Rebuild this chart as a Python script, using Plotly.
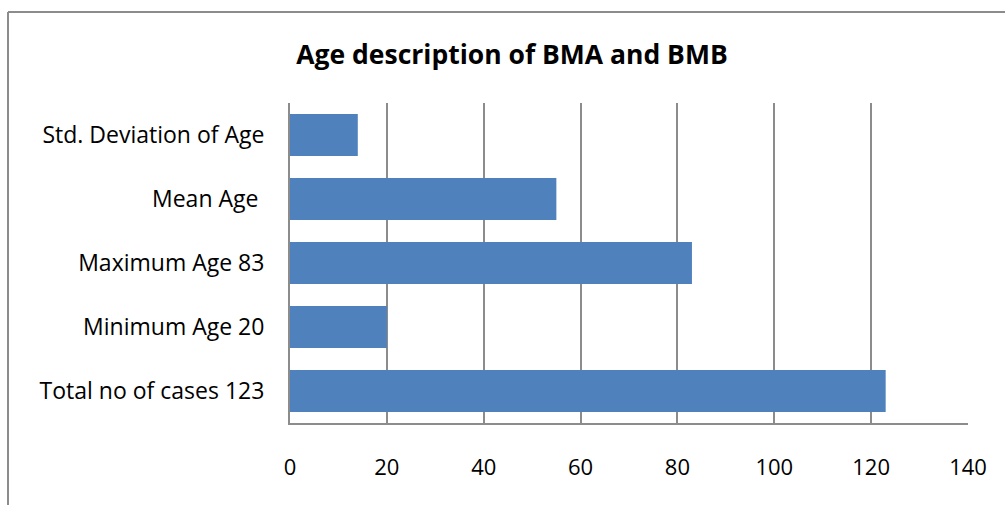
import plotly.graph_objects as go

# Descriptive statistics of age, listed bottom-to-top as drawn
categories = [
    "Total no of cases 123",
    "Minimum Age 20",
    "Maximum Age 83",
    "Mean Age\u00a0",
    "Std. Deviation of Age",
]
values = [123, 20, 83, 55, 14]
x_ticks = [0, 20, 40, 60, 80, 100, 120, 140]

BAR_COLOR = "#4F81BD"
GRID_COLOR = "#8C8C8C"
FONT = "Open Sans"

fig = go.Figure(
    go.Bar(
        x=values,
        y=categories,
        orientation="h",
        marker=dict(color=BAR_COLOR, line=dict(width=0)),
        hoverinfo="x+y",
    )
)

W, H = 1005, 505
ml, mr, mt, mb = 290, 37, 103, 82
pw, ph = W - ml - mr, H - mt - mb

def px_to_paper_x(px):
    return (px - ml) / pw

def px_to_paper_y(py):
    return (H - mb - py) / ph

fig.update_layout(
    width=W,
    height=H,
    margin=dict(l=ml, r=mr, t=mt, b=mb, pad=0),
    paper_bgcolor="white",
    plot_bgcolor="white",
    bargap=0.34,
    showlegend=False,
    font=dict(family=FONT, size=22, color="black"),
    title=dict(
        text="<b>Age description of BMA and BMB</b>",
        x=px_to_paper_x(512),
        xref="paper",
        xanchor="center",
        y=(H - 55) / H,
        yanchor="middle",
        font=dict(family=FONT, size=26.5, color="black"),
    ),
    xaxis=dict(
        range=[0, 140],
        tickvals=x_ticks,
        showgrid=True,
        gridcolor=GRID_COLOR,
        gridwidth=2,
        showline=True,
        linecolor=GRID_COLOR,
        linewidth=2,
        zeroline=False,
        ticks="",
        ticklabelstandoff=24,
        tickfont=dict(family=FONT, size=22, color="black"),
        fixedrange=True,
    ),
    yaxis=dict(
        showgrid=False,
        showline=True,
        linecolor=GRID_COLOR,
        linewidth=2,
        ticks="",
        ticklabelstandoff=19,
        tickfont=dict(family=FONT, size=23, color="black"),
        fixedrange=True,
    ),
    shapes=[
        # frame around the chart (left and top edges)
        dict(type="line", xref="paper", yref="paper",
             x0=px_to_paper_x(8), x1=px_to_paper_x(8),
             y0=px_to_paper_y(12), y1=px_to_paper_y(510),
             line=dict(color=GRID_COLOR, width=2)),
        dict(type="line", xref="paper", yref="paper",
             x0=px_to_paper_x(8), x1=px_to_paper_x(1010),
             y0=px_to_paper_y(12), y1=px_to_paper_y(12),
             line=dict(color=GRID_COLOR, width=2)),
    ],
)

fig.write_html("out.html")
